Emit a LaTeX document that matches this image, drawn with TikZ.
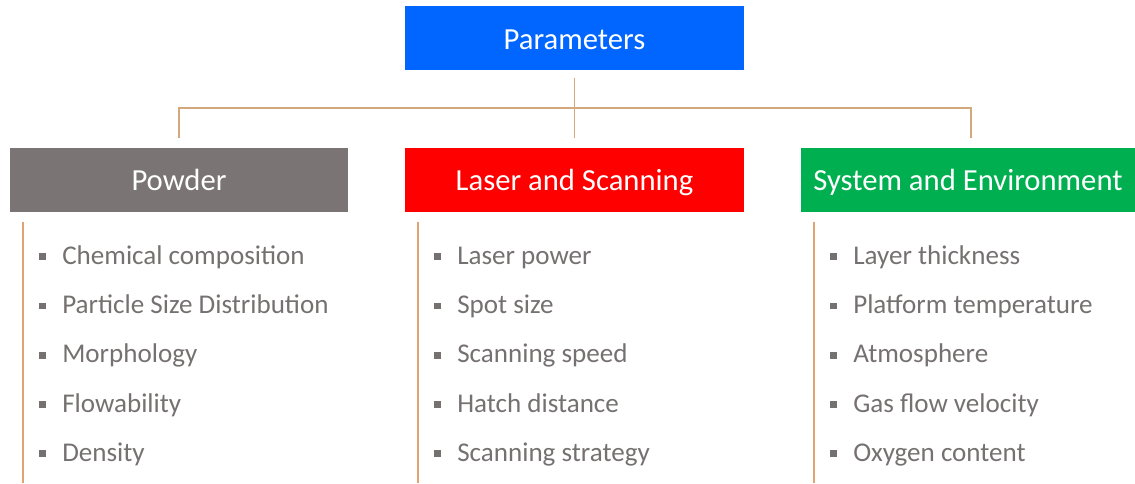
\documentclass[tikz,border=0pt]{standalone}
\usepackage{fontspec}
\setmainfont{Carlito}
\definecolor{topblue}{HTML}{0066FF}
\definecolor{powdergray}{HTML}{7A7574}
\definecolor{laserred}{HTML}{FF0000}
\definecolor{sysgreen}{HTML}{00B050}
\definecolor{linktan}{HTML}{D2A87C}
\definecolor{ruletan}{HTML}{E0A474}
\definecolor{itemgray}{HTML}{767171}
\begin{document}
\begin{tikzpicture}[x=0.75pt,y=-0.75pt]
	\tikzstyle{head} = [ rectangle, inner sep=0pt, minimum height=48pt, text height=17pt, text depth=0pt, text=white, font={\fontsize{23}{27}\selectfont} ];
	\tikzstyle{link} = [ linktan, line width=1.1pt ];
	\tikzstyle{rule} = [ ruletan, line width=1.2pt ];
	\tikzstyle{bullet} = [ rectangle, fill=itemgray, inner sep=0pt, minimum size=5.2pt ];
	\tikzstyle{item} = [ anchor=base west, inner sep=0pt, text=itemgray, font={\fontsize{20.3}{24}\selectfont} ];

	\useasboundingbox (0,0) rectangle (1135,483);

	\node[head, fill=topblue, minimum width=254pt] (params) at (574.5,38) {Parameters};

	\node[head, fill=powdergray, minimum width=253.5pt] (powder) at (179,179.5) {Powder};
	\node[head, fill=laserred, minimum width=254pt] (laser) at (574.5,179.5) {Laser and Scanning};
	\node[head, fill=sysgreen, minimum width=250.5pt] (system) at (968,179.5) {System and Environment};

	% tree connectors
	\draw[link] ([yshift=-6pt]params.south) -- ([yshift=7pt]laser.north);
	\draw[link] ([yshift=7pt]powder.north) -- ++(0,-30) coordinate (hl)
		-- ([xshift=2.25pt, yshift=29.5pt]system.north) coordinate (hr)
		-- ([xshift=2.25pt, yshift=7pt]system.north);

	\foreach \col/\x/\items in {
		powder/10/{Chemical composition,Particle Size Distribution,Morphology,Flowability,Density},
		laser/405/{Laser power,Spot size,Scanning speed,Hatch distance,Scanning strategy},
		system/801/{Layer thickness,Platform temperature,Atmosphere,Gas flow velocity,Oxygen content}} {
		\draw[rule] ([xshift=9.75pt, yshift=-8pt]\col.south west) coordinate (\col r) -- ++(0,261);
		\foreach \t [count=\i] in \items {
			\node[bullet] (\col b\i) at (\x+32.5, 207.5+49.25*\i) {};
			\node[item] (\col t\i) at (\x+52, 215+49.25*\i) {\t};
		}
	}
\end{tikzpicture}
\end{document}
